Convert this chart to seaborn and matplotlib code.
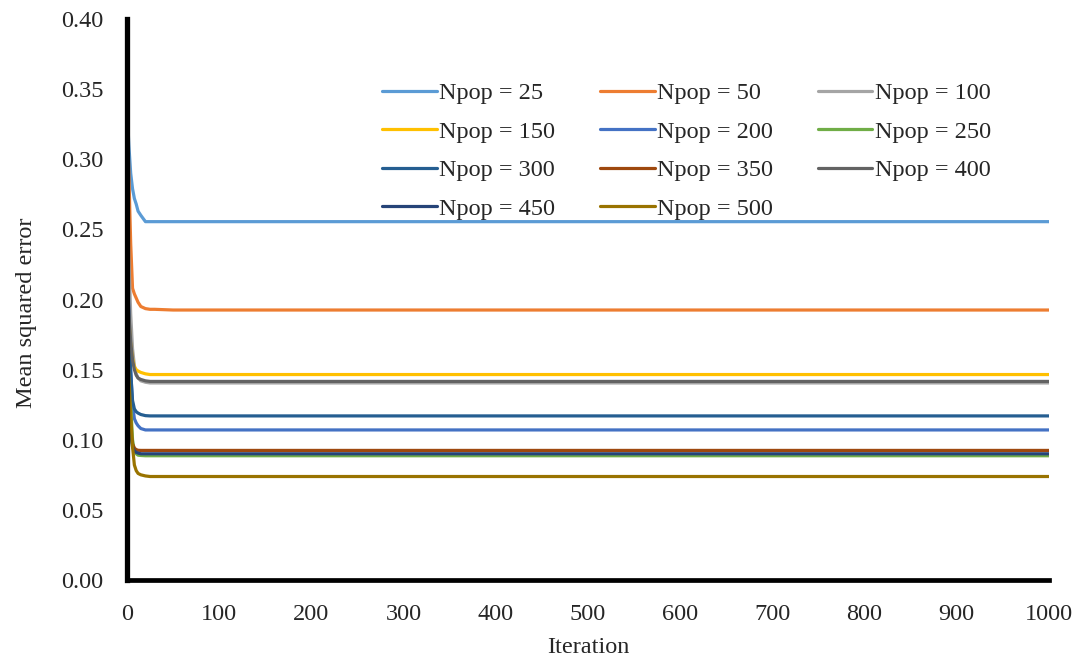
import numpy as np
import pandas as pd
import matplotlib
matplotlib.use('Agg')
import matplotlib.pyplot as plt
import seaborn as sns

iters = [0, 2, 4, 6, 8, 10, 12, 15, 20, 25, 30, 50, 1000]

# Mean squared error per population size
npop_25 = [0.338, 0.310, 0.290, 0.279, 0.272, 0.268, 0.263, 0.260, 0.2555, 0.2555, 0.2555, 0.2555, 0.2555]
npop_50 = [0.335, 0.290, 0.240, 0.208, 0.204, 0.201, 0.198, 0.195, 0.1935, 0.193, 0.193, 0.1925, 0.1925]
npop_100 = [0.281, 0.230, 0.190, 0.165, 0.153, 0.147, 0.144, 0.142, 0.141, 0.1405, 0.1405, 0.1405, 0.1405]
npop_150 = [0.205, 0.185, 0.168, 0.158, 0.152, 0.150, 0.149, 0.148, 0.147, 0.1465, 0.1465, 0.1465, 0.1465]
npop_200 = [0.241, 0.190, 0.150, 0.125, 0.115, 0.112, 0.110, 0.108, 0.107, 0.107, 0.107, 0.107, 0.107]
npop_250 = [0.237, 0.170, 0.125, 0.100, 0.092, 0.090, 0.089, 0.0888, 0.0886, 0.0886, 0.0886, 0.0886, 0.0886]
npop_300 = [0.235, 0.185, 0.148, 0.128, 0.122, 0.120, 0.119, 0.118, 0.1172, 0.117, 0.117, 0.117, 0.117]
npop_350 = [0.186, 0.125, 0.105, 0.097, 0.094, 0.093, 0.0925, 0.0924, 0.0924, 0.0924, 0.0924, 0.0924, 0.0924]
npop_400 = [0.219, 0.190, 0.170, 0.157, 0.150, 0.146, 0.144, 0.143, 0.142, 0.1416, 0.1416, 0.1416, 0.1416]
npop_450 = [0.183, 0.130, 0.105, 0.095, 0.092, 0.091, 0.0905, 0.090, 0.090, 0.090, 0.090, 0.090, 0.090]
npop_500 = [0.179, 0.145, 0.118, 0.095, 0.082, 0.078, 0.076, 0.075, 0.0742, 0.0738, 0.0738, 0.0738, 0.0738]

labels = ['Npop = 25', 'Npop = 50', 'Npop = 100', 'Npop = 150', 'Npop = 200', 'Npop = 250',
          'Npop = 300', 'Npop = 350', 'Npop = 400', 'Npop = 450', 'Npop = 500']
series = [npop_25, npop_50, npop_100, npop_150, npop_200, npop_250,
          npop_300, npop_350, npop_400, npop_450, npop_500]
colors = ['#5B9BD5', '#ED7D31', '#A5A5A5', '#FFC000', '#4472C4', '#70AD47',
          '#255E91', '#9E480E', '#636363', '#264478', '#997300']

sns.set_style('white')
plt.rcParams['font.family'] = ['Liberation Serif', 'DejaVu Serif']

fig = plt.figure(figsize=(10.79, 6.66), dpi=100)
ax = fig.add_axes([0.1177, 0.1291, 0.8545, 0.8424])

# one line per population size
for lab, vals, col in zip(labels, series, colors):
    sns.lineplot(x=iters, y=vals, color=col, label=lab, linewidth=2.3, ax=ax)

ax.set_xlim(0, 1000)
ax.set_ylim(0, 0.40)
ax.set_xticks(np.arange(0, 1001, 100))
ax.set_yticks(np.arange(0, 0.401, 0.05))
ax.set_yticklabels([f'{v:.2f}' for v in np.arange(0, 0.401, 0.05)])
ax.tick_params(axis='both', labelsize=17.5, length=0)
ax.tick_params(axis='y', pad=17)
ax.tick_params(axis='x', pad=17)

ax.set_xlabel('Iteration', fontsize=17.5, labelpad=9)
ax.set_ylabel('Mean squared error', fontsize=17.5)
ax.yaxis.set_label_coords(-0.098, 0.477)

# thick black axis lines, no box
for side in ['top', 'right']:
    ax.spines[side].set_visible(False)
ax.spines['left'].set_linewidth(3.8)
ax.spines['bottom'].set_linewidth(3.4)
for side in ['left', 'bottom']:
    ax.spines[side].set_color('black')

# legend filled row by row (matplotlib fills column by column)
handles, labs = ax.get_legend_handles_labels()
order = [0, 3, 6, 9, 1, 4, 7, 10, 2, 5, 8]
ax.legend([handles[i] for i in order], [labs[i] for i in order],
          ncol=3, frameon=False, fontsize=17.5, loc='upper left',
          bbox_to_anchor=(0.266, 0.905), handlelength=2.25, handletextpad=0.1,
          columnspacing=1.84, labelspacing=0.68, borderaxespad=0)

plt.savefig('out.png', dpi=100)
